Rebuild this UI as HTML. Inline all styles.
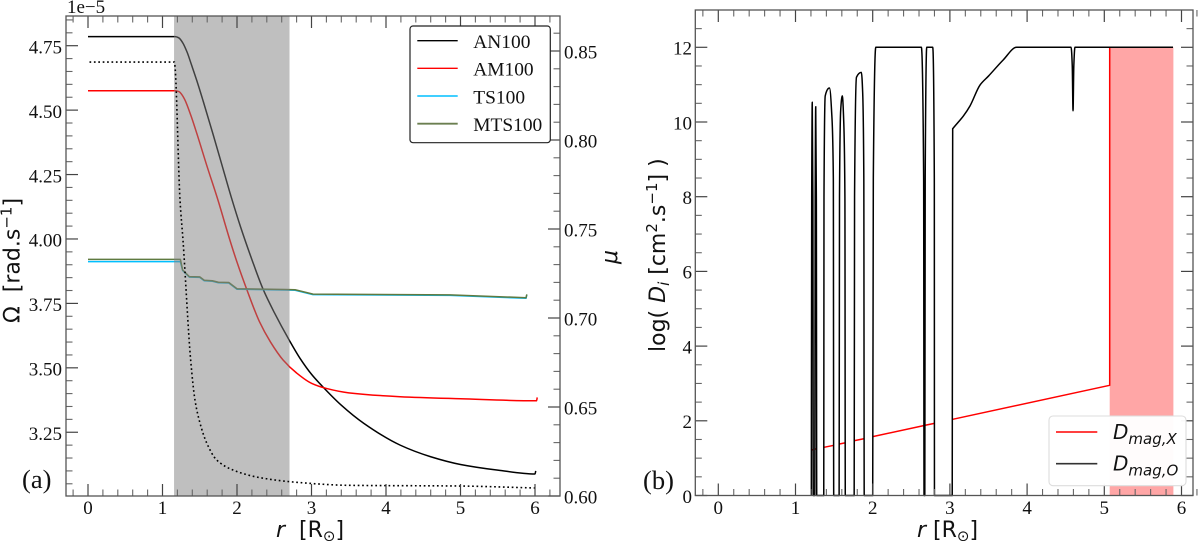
<!DOCTYPE html>
<html lang="en">
<head>
<meta charset="utf-8">
<title>Rotation and diffusion profiles</title>
<style>
html,body{margin:0;padding:0;background:#fff;}
svg{display:block;}
text{fill:#111;}
.tick{font-family:"Liberation Serif",serif;font-size:19px;}
.label{font-family:"DejaVu Sans",sans-serif;font-size:22px;}
.leg{font-family:"Liberation Serif",serif;font-size:19.4px;}
.panel{font-family:"Liberation Serif",serif;font-size:26.5px;}
.mleg{font-family:"DejaVu Sans",sans-serif;font-size:20px;font-style:italic;}
</style>
</head>
<body>
<svg id="fig" xmlns="http://www.w3.org/2000/svg" width="1200" height="541" viewBox="0 0 1200 541">
  <g id="a-marks"></g>
  <g id="a-axes"></g>
  <g id="b-marks"></g>
  <g id="b-axes"></g>

  <text class="tick" x="67" y="13">1e−5</text>
  <text class="panel" x="22" y="488">(a)</text>
  <text class="panel" x="643" y="489">(b)</text>

  <text class="label" x="276" y="537"><tspan font-style="italic">r</tspan>&#160;&#160;[R<tspan font-size="15" dy="4">⊙</tspan><tspan dy="-4">]</tspan></text>
  <text class="label" x="917" y="537"><tspan font-style="italic">r</tspan> [R<tspan font-size="15" dy="4">⊙</tspan><tspan dy="-4">]</tspan></text>
  <text class="label" transform="translate(19.5,323) rotate(-90)">Ω&#160;&#160;[rad.s<tspan font-size="15" dy="-8">−1</tspan><tspan dy="8">]</tspan></text>
  <text class="label" transform="translate(617,264) rotate(-90)" font-style="italic">μ</text>
  <text class="label" transform="translate(665,352) rotate(-90)">log( <tspan font-style="italic">D</tspan><tspan font-size="15" font-style="italic" dy="4">i</tspan><tspan dy="-4"> [cm</tspan><tspan font-size="15" dy="-8">2</tspan><tspan dy="8">.s</tspan><tspan font-size="15" dy="-8">−1</tspan><tspan dy="8">] )</tspan></text>

  <g>
    <rect x="410" y="26" width="140.3" height="116.7" rx="3" fill="#fff" stroke="#222" stroke-width="1.2"/>
    <line x1="417.3" x2="457.7" y1="40.7" y2="40.7" stroke="#000" stroke-width="1.4"/>
    <text class="leg" x="473.3" y="48">AN100</text>
    <line x1="417.3" x2="457.7" y1="68.3" y2="68.3" stroke="#f00" stroke-width="1.4"/>
    <text class="leg" x="473.3" y="75.6">AM100</text>
    <line x1="417.3" x2="457.7" y1="96" y2="96" stroke="#00bfff" stroke-width="1.4"/>
    <text class="leg" x="473.3" y="103.3">TS100</text>
    <line x1="417.3" x2="457.7" y1="123.7" y2="123.7" stroke="#6b7f50" stroke-width="1.8"/>
    <text class="leg" x="473.3" y="131">MTS100</text>
  </g>

  <g>
    <rect x="1049" y="416" width="137" height="69.7" rx="4" fill="#fff" fill-opacity="0.96" stroke="#ddd" stroke-width="1.1"/>
    <line x1="1056" x2="1097.3" y1="432" y2="432" stroke="#f00" stroke-width="1.4"/>
    <text class="mleg" x="1113" y="439">D<tspan font-size="15" dy="5">mag,X</tspan></text>
    <line x1="1056" x2="1097.3" y1="463.7" y2="463.7" stroke="#333" stroke-width="1.6"/>
    <text class="mleg" x="1113" y="470.7">D<tspan font-size="15" dy="5">mag,O</tspan></text>
  </g>
</svg>
<script>
// ---- Panel (a) data ----
var anR = [0,1.17,1.22,1.27,1.33,1.39,1.46,1.546,1.68,1.8,1.92,2.05,2.2,2.35,2.5,2.7,2.85,3.0,3.14,3.4,3.7,4.19,4.6,5.0,5.5,6.0,6.01];
var anOmega = [4.785,4.785,4.78,4.762,4.725,4.675,4.615,4.535,4.405,4.285,4.165,4.045,3.92,3.805,3.715,3.608,3.535,3.475,3.43,3.355,3.285,3.20,3.155,3.125,3.103,3.088,3.10];
var amR = [0,1.17,1.22,1.26,1.30,1.38,1.46,1.6,1.74,1.9,2.0,2.13,2.3,2.45,2.62,2.8,3.0,3.2,3.5,4.19,5.0,6.02,6.03];
var amOmega = [4.575,4.575,4.572,4.56,4.54,4.48,4.41,4.28,4.155,4.0,3.91,3.805,3.68,3.6,3.53,3.48,3.44,3.42,3.403,3.388,3.38,3.372,3.385];
var tsR = [0,1.24,1.27,1.36,1.5,1.56,1.67,1.75,1.89,2.0,2.65,2.78,3.02,4.86,5.88,5.89];
var tsOmega = [3.912,3.912,3.878,3.852,3.851,3.838,3.836,3.83,3.829,3.805,3.802,3.801,3.784,3.781,3.77,3.783];
var mtsR = [0,1.24,1.27,1.36,1.5,1.56,1.67,1.75,1.89,2.0,2.65,2.78,3.02,4.86,5.88,5.89];
var mtsOmega = [3.921,3.921,3.88,3.854,3.853,3.84,3.838,3.832,3.831,3.807,3.804,3.803,3.786,3.783,3.772,3.785];
var muR = [0.02,1.16,1.168,1.235,1.275,1.378,1.436,1.503,1.593,1.728,1.946,2.309,2.8,3.5,5.0,6.0];
var muVal = [0.8438,0.8438,0.8412,0.7663,0.7438,0.6764,0.6539,0.641,0.6298,0.6202,0.6146,0.6103,0.6077,0.606,0.6056,0.6045];
var shadeA = [1.155,2.705];
var xTicks = [0,1,2,3,4,5,6];
var omegaTicks = [3.25,3.5,3.75,4.0,4.25,4.5,4.75];
var omegaTickLabels = ["3.25","3.50","3.75","4.00","4.25","4.50","4.75"];
var muTicks = [0.6,0.65,0.7,0.75,0.8,0.85];
var muTickLabels = ["0.60","0.65","0.70","0.75","0.80","0.85"];

// ---- Panel (b) data ----
var dmagOR = [1.205,1.21,1.217,1.225,1.23,1.25,1.255,1.262,1.27,1.275,1.366,1.369,1.385,1.44,1.47,1.49,1.495,1.565,1.57,1.585,1.606,1.625,1.64,1.645,1.76,1.765,1.79,1.853,1.87,1.885,1.89,2.0,2.008,2.04,2.63,2.66,2.665,2.675,2.68,2.70,2.777,2.798,2.80,3.03,3.036,3.04,3.11,3.174,3.26,3.39,3.5,3.69,3.865,4.57,4.585,4.595,4.605,4.62,5.89];
var dmagOVal = [0,8,10.53,8,0,0,8,10.41,8,0,0,8,10.7,10.91,10.2,8.5,0,0,8,10.3,10.7,10.0,8,0,0,8,11.2,11.33,10.8,8.5,0,0,8.5,12,12,8.5,0,0,8.5,12,12,8.5,0,0,9.82,9.83,10.0,10.16,10.43,10.99,11.23,11.66,12,12,11.5,10.3,11.5,12,12];
var dmagXR = [1.21,1.225,null,1.255,1.27,null,1.369,1.49,null,1.57,1.64,null,1.765,1.885,null,2.008,2.66,null,2.68,2.798,null,3.036,5.07,5.07];
var dmagXVal = [1.22,1.23,null,1.24,1.25,null,1.29,1.34,null,1.38,1.41,null,1.47,1.52,null,1.58,1.87,null,1.88,1.93,null,2.04,2.95,12];
var shadeB = [5.07,5.895];
var shadeBTop = 12;
var dTicks = [0,2,4,6,8,10,12];
var dTickLabels = ["0","2","4","6","8","10","12"];

// ---- Axis functions ----
function xA(r){return 88+74.5*r;}
function yOmega(v){return 45.7+(4.75-v)*257.7;}
function yMu(v){return 496-(v-0.6)*1780;}
function xB(r){return 718.3+77.2*r;}
function yD(v){return 495.5-37.35*v;}

var NS="http://www.w3.org/2000/svg";
function mk(parent,tag){var e=document.createElementNS(NS,tag);parent.appendChild(e);return e;}
function pathD(rs,vs,fx,fy){
  var d="",pen=false;
  for(var i=0;i<rs.length;i++){
    if(rs[i]===null){pen=false;continue;}
    d+=(pen?"L":"M")+fx(rs[i]).toFixed(2)+" "+fy(vs[i]).toFixed(2);
    pen=true;
  }
  return d;
}
// Monotone cubic path through the data points (curve is drawn smooth between readings)
function smoothD(rs,vs,fx,fy){
  var n=rs.length,xs=[],ys=[],s=[],m=[],i;
  for(i=0;i<n;i++){xs.push(fx(rs[i]));ys.push(fy(vs[i]));}
  for(i=0;i<n-1;i++){s.push((ys[i+1]-ys[i])/(xs[i+1]-xs[i]));}
  m.push(s[0]);
  for(i=1;i<n-1;i++){
    if(s[i-1]*s[i]<=0){m.push(0);}
    else{
      var h0=xs[i]-xs[i-1],h1=xs[i+1]-xs[i];
      var w1=2*h1+h0,w2=h1+2*h0;
      m.push((w1+w2)/(w1/s[i-1]+w2/s[i]));
    }
  }
  m.push(s[n-2]);
  var d="M"+xs[0].toFixed(2)+" "+ys[0].toFixed(2);
  for(i=0;i<n-1;i++){
    var h=(xs[i+1]-xs[i])/3;
    d+="C"+(xs[i]+h).toFixed(2)+" "+(ys[i]+m[i]*h).toFixed(2)+" "+(xs[i+1]-h).toFixed(2)+" "+(ys[i+1]-m[i+1]*h).toFixed(2)+" "+xs[i+1].toFixed(2)+" "+ys[i+1].toFixed(2);
  }
  return d;
}
function styleLine(el,color,w){
  el.setAttribute('fill','none');
  el.setAttribute('stroke',color);
  el.setAttribute('stroke-width',w);
  el.setAttribute('stroke-linejoin','round');
}
function tickLine(g,x1,y1,x2,y2,major){
  var t=mk(g,'line');
  t.setAttribute('x1',x1);t.setAttribute('y1',y1);t.setAttribute('x2',x2);t.setAttribute('y2',y2);
  t.setAttribute('stroke',major?'#444':'#666');
  t.setAttribute('stroke-width',major?1.2:1.1);
  return t;
}
var aM=document.getElementById('a-marks'),aX=document.getElementById('a-axes');
var bM=document.getElementById('b-marks'),bX=document.getElementById('b-axes');

// ---- Panel (a) marks ----
var el;
el=mk(aM,'path');
el.setAttribute('d',smoothD(anR,anOmega,xA,yOmega));
styleLine(el,'#000',1.5);



el=mk(aM,'path');
el.setAttribute('d',smoothD(amR,amOmega,xA,yOmega));
styleLine(el,'#f00',1.5);



el=mk(aM,'path');
el.setAttribute('d',pathD(tsR,tsOmega,xA,yOmega));
styleLine(el,'#00bfff',1.5);



el=mk(aM,'path');
el.setAttribute('d',pathD(mtsR,mtsOmega,xA,yOmega));
styleLine(el,'#5f7a40',1.5);



el=mk(aM,'rect');
el.setAttribute('x',xA(shadeA[0]));
el.setAttribute('y',16);
el.setAttribute('width',xA(shadeA[1])-xA(shadeA[0]));
el.setAttribute('height',480);
el.setAttribute('fill','#808080');
el.setAttribute('fill-opacity','0.5');



el=mk(aM,'path');
el.setAttribute('d',smoothD(muR,muVal,xA,yMu));
styleLine(el,'#000',1.6);
el.setAttribute('stroke-dasharray','1.7 2.7');



// ---- Panel (a) axes ----
var v,i,t;
for(v=-0.2;v<=6.21;v+=0.2){
  var rv=Math.round(v*10)/10;
  var isMaj=xTicks.indexOf(rv)>=0;
  var len=isMaj?12:6.5;
  t=tickLine(aX,xA(rv),496,xA(rv),496-len,isMaj);
  
  
  t=tickLine(aX,xA(rv),16,xA(rv),16+len,isMaj);
  
  
}
for(i=0;i<xTicks.length;i++){
  t=mk(aX,'text');
  t.setAttribute('class','tick');
  t.setAttribute('x',xA(xTicks[i]));
  t.setAttribute('y',514);
  t.setAttribute('text-anchor','middle');
  t.textContent=String(xTicks[i]);
  
  
}
for(v=305;v<=485;v+=5){
  var om=v/100;
  var omMaj=omegaTicks.indexOf(om)>=0;
  t=tickLine(aX,66,yOmega(om),omMaj?78:72.5,yOmega(om),omMaj);
  
  
}
for(i=0;i<omegaTicks.length;i++){
  t=mk(aX,'text');
  t.setAttribute('class','tick');
  t.setAttribute('x',62);
  t.setAttribute('y',yOmega(omegaTicks[i])+7.7);
  t.setAttribute('text-anchor','end');
  t.textContent=omegaTickLabels[i];
  
  
}
for(v=60;v<=86;v+=1){
  var mu=v/100;
  var muMaj=muTicks.indexOf(mu)>=0;
  t=tickLine(aX,560,yMu(mu),muMaj?548:553.5,yMu(mu),muMaj);
  
  
}
for(i=0;i<muTicks.length;i++){
  t=mk(aX,'text');
  t.setAttribute('class','tick');
  t.setAttribute('x',564);
  t.setAttribute('y',yMu(muTicks[i])+7.6);
  t.textContent=muTickLabels[i];
  
  
}
el=mk(aX,'rect');
el.setAttribute('x',66);el.setAttribute('y',16);el.setAttribute('width',494);el.setAttribute('height',480);
el.setAttribute('fill','none');el.setAttribute('stroke','#555');el.setAttribute('stroke-width','1.3');



// ---- Panel (b) marks ----
el=mk(bM,'rect');
el.setAttribute('x',xB(shadeB[0]));
el.setAttribute('y',yD(shadeBTop));
el.setAttribute('width',xB(shadeB[1])-xB(shadeB[0]));
el.setAttribute('height',yD(0)-yD(shadeBTop));
el.setAttribute('fill','#ffa6a6');



el=mk(bM,'path');
el.setAttribute('d',pathD(dmagXR,dmagXVal,xB,yD));
styleLine(el,'#f00',1.5);



el=mk(bM,'path');
el.setAttribute('d',smoothD(dmagOR,dmagOVal,xB,yD));
styleLine(el,'#000',1.5);



// ---- Panel (b) axes ----
for(v=-0.2;v<=6.21;v+=0.2){
  var rb=Math.round(v*10)/10;
  var bMaj=xTicks.indexOf(rb)>=0;
  var blen=bMaj?12:6.5;
  t=tickLine(bX,xB(rb),495.5,xB(rb),495.5-blen,bMaj);
  
  
  t=tickLine(bX,xB(rb),10,xB(rb),10+blen,bMaj);
  
  
}
for(i=0;i<xTicks.length;i++){
  t=mk(bX,'text');
  t.setAttribute('class','tick');
  t.setAttribute('x',xB(xTicks[i]));
  t.setAttribute('y',514);
  t.setAttribute('text-anchor','middle');
  t.textContent=String(xTicks[i]);
  
  
}
for(v=0;v<=25;v+=1){
  var dv=v/2;
  var dMaj=dTicks.indexOf(dv)>=0;
  t=tickLine(bX,695.3,yD(dv),dMaj?707.3:701.8,yD(dv),dMaj);
  
  
  t=tickLine(bX,1193,yD(dv),dMaj?1181:1186.5,yD(dv),dMaj);
  
  
}
for(i=0;i<dTicks.length;i++){
  t=mk(bX,'text');
  t.setAttribute('class','tick');
  t.setAttribute('x',692);
  t.setAttribute('y',yD(dTicks[i])+7.3);
  t.setAttribute('text-anchor','end');
  t.textContent=dTickLabels[i];
  
  
}
el=mk(bX,'rect');
el.setAttribute('x',695.3);el.setAttribute('y',10);el.setAttribute('width',497.7);el.setAttribute('height',485.5);
el.setAttribute('fill','none');el.setAttribute('stroke','#555');el.setAttribute('stroke-width','1.3');


</script>
</body>
</html>
